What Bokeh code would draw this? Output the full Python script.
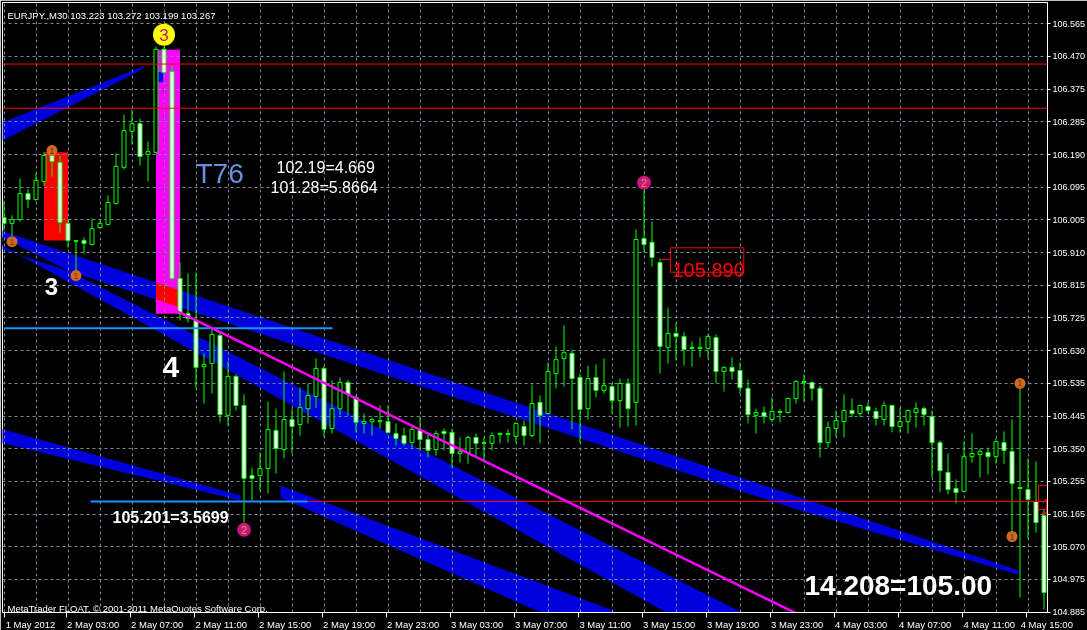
from bokeh.plotting import figure
from bokeh.models import (FixedTicker, LinearAxis, Grid, Label, Span, ColumnDataSource, Range1d)
from bokeh.core.properties import value
from bokeh.embed import file_html
from bokeh.resources import INLINE

FONT = "Liberation Sans"

# ---------------- data (EURJPY M30, bar index 0..130) ----------------
bar_open = [106.012, 105.995, 106.006, 106.080, 106.063, 106.115, 106.192, 106.169, 105.995, 105.946,
            105.946, 105.935, 105.983, 105.992, 106.052, 106.155, 106.258, 106.280, 106.192, 106.198,
            106.492, 106.429, 105.838, 105.738, 105.718, 105.586, 105.595, 105.675, 105.447, 105.558,
            105.475, 105.275, 105.275, 105.295, 105.404, 105.349, 105.435, 105.421, 105.466, 105.501,
            105.581, 105.409, 105.466, 105.541, 105.498, 105.424, 105.429, 105.429, 105.429, 105.395,
            105.389, 105.369, 105.404, 105.378, 105.349, 105.401, 105.398, 105.338, 105.341, 105.384,
            105.367, 105.367, 105.392, 105.392, 105.387, 105.415, 105.389, 105.484, 105.452, 105.566,
            105.609, 105.624, 105.555, 105.466, 105.555, 105.518, 105.529, 105.489, 105.538, 105.484,
            105.952, 105.941, 105.883, 105.641, 105.681, 105.672, 105.641, 105.638, 105.638, 105.669,
            105.572, 105.584, 105.575, 105.524, 105.447, 105.455, 105.435, 105.455, 105.455, 105.495,
            105.544, 105.541, 105.524, 105.369, 105.409, 105.429, 105.461, 105.452, 105.472, 105.458,
            105.435, 105.475, 105.415, 105.429, 105.455, 105.466, 105.444, 105.369, 105.284, 105.238,
            105.230, 105.329, 105.335, 105.341, 105.329, 105.369, 105.344, 105.238, 105.235, 105.201,
            105.161]
bar_high = [106.060, 106.018, 106.123, 106.092, 106.140, 106.198, 106.209, 106.189, 106.003, 105.948,
            105.955, 106.009, 106.003, 106.075, 106.195, 106.306, 106.320, 106.295, 106.229, 106.500,
            106.500, 106.446, 105.883, 105.852, 105.855, 105.624, 105.695, 105.684, 105.601, 105.564,
            105.507, 105.298, 105.341, 105.486, 105.466, 105.572, 105.466, 105.526, 105.538, 105.609,
            105.589, 105.547, 105.555, 105.547, 105.504, 105.452, 105.441, 105.475, 105.475, 105.424,
            105.412, 105.418, 105.444, 105.395, 105.404, 105.409, 105.409, 105.384, 105.389, 105.395,
            105.384, 105.398, 105.398, 105.407, 105.427, 105.432, 105.535, 105.504, 105.598, 105.644,
            105.704, 105.635, 105.566, 105.589, 105.592, 105.609, 105.538, 105.552, 105.552, 105.978,
            106.089, 106.000, 105.895, 105.755, 105.712, 105.684, 105.658, 105.669, 105.678, 105.678,
            105.586, 105.612, 105.598, 105.549, 105.466, 105.472, 105.498, 105.464, 105.498, 105.547,
            105.564, 105.543, 105.532, 105.429, 105.461, 105.507, 105.495, 105.478, 105.484, 105.469,
            105.486, 105.478, 105.469, 105.464, 105.484, 105.472, 105.461, 105.375, 105.338, 105.264,
            105.372, 105.395, 105.352, 105.355, 105.381, 105.401, 105.435, 105.524, 105.324, 105.315,
            105.181]
bar_low = [105.975, 105.958, 106.000, 106.038, 106.060, 106.103, 106.129, 105.969, 105.926, 105.852,
           105.909, 105.932, 105.980, 105.989, 106.049, 106.149, 106.220, 106.160, 106.115, 106.195,
           106.423, 105.832, 105.718, 105.712, 105.524, 105.481, 105.509, 105.427, 105.418, 105.461,
           105.141, 105.204, 105.232, 105.224, 105.281, 105.324, 105.338, 105.389, 105.424, 105.469,
           105.384, 105.395, 105.447, 105.447, 105.398, 105.395, 105.389, 105.409, 105.395, 105.361,
           105.361, 105.355, 105.347, 105.327, 105.332, 105.347, 105.298, 105.312, 105.309, 105.327,
           105.318, 105.347, 105.367, 105.369, 105.367, 105.361, 105.384, 105.367, 105.449, 105.524,
           105.529, 105.407, 105.367, 105.435, 105.498, 105.509, 105.452, 105.412, 105.415, 105.418,
           105.912, 105.872, 105.566, 105.595, 105.604, 105.589, 105.586, 105.612, 105.609, 105.538,
           105.515, 105.549, 105.509, 105.424, 105.395, 105.424, 105.427, 105.427, 105.452, 105.481,
           105.486, 105.489, 105.327, 105.355, 105.384, 105.384, 105.441, 105.441, 105.452, 105.418,
           105.418, 105.398, 105.398, 105.395, 105.412, 105.418, 105.269, 105.227, 105.221, 105.195,
           105.227, 105.312, 105.269, 105.278, 105.309, 105.309, 105.104, 104.927, 105.095, 105.112,
           104.893]
bar_close = [105.995, 106.006, 106.080, 106.063, 106.118, 106.189, 106.172, 105.998, 105.946, 105.944,
             105.938, 105.980, 105.995, 106.055, 106.158, 106.260, 106.280, 106.186, 106.200, 106.492,
             106.426, 105.838, 105.738, 105.724, 105.584, 105.592, 105.678, 105.449, 105.558, 105.475,
             105.267, 105.267, 105.295, 105.407, 105.352, 105.435, 105.415, 105.469, 105.504, 105.581,
             105.407, 105.466, 105.541, 105.507, 105.427, 105.429, 105.435, 105.432, 105.398, 105.381,
             105.367, 105.407, 105.378, 105.347, 105.395, 105.395, 105.338, 105.344, 105.384, 105.367,
             105.369, 105.389, 105.395, 105.395, 105.424, 105.389, 105.481, 105.447, 105.572, 105.606,
             105.626, 105.552, 105.464, 105.552, 105.518, 105.532, 105.489, 105.538, 105.466, 105.949,
             105.935, 105.898, 105.644, 105.681, 105.672, 105.635, 105.638, 105.641, 105.672, 105.572,
             105.584, 105.572, 105.526, 105.449, 105.455, 105.444, 105.458, 105.458, 105.495, 105.544,
             105.541, 105.524, 105.369, 105.412, 105.432, 105.461, 105.452, 105.475, 105.461, 105.438,
             105.475, 105.415, 105.429, 105.461, 105.466, 105.449, 105.369, 105.289, 105.235, 105.227,
             105.329, 105.338, 105.344, 105.329, 105.372, 105.347, 105.252, 105.241, 105.207, 105.141,
             104.941]
bar_index = list(range(len(bar_open)))

# right price scale
y_tick_values = [104.885, 104.97833, 105.07167, 105.165, 105.25833, 105.35167, 105.445, 105.53833,
                 105.63167, 105.725, 105.81833, 105.91167, 106.005, 106.09833, 106.19167, 106.285,
                 106.37833, 106.47167, 106.565]
y_tick_labels = ["104.885", "104.975", "105.070", "105.165", "105.255", "105.350", "105.445", "105.535",
                 "105.630", "105.725", "105.815", "105.910", "106.005", "106.095", "106.190", "106.285",
                 "106.375", "106.470", "106.565"]
# time scale
x_tick_marks = [0, 7.81, 15.81, 23.81, 31.81, 39.81, 47.81, 55.81, 63.81, 71.81, 79.81, 87.81,
                95.81, 103.81, 111.81, 119.81, 127.81]
x_label_pos = [3.31, 11.15, 19.15, 27.15, 35.15, 43.15, 51.15, 59.15, 67.15, 75.15, 83.15, 91.15,
               99.15, 107.15, 115.15, 123.15, 130.35]
x_labels = ["1 May 2012", "2 May 03:00", "2 May 07:00", "2 May 11:00", "2 May 15:00", "2 May 19:00",
            "2 May 23:00", "3 May 03:00", "3 May 07:00", "3 May 11:00", "3 May 15:00", "3 May 19:00",
            "3 May 23:00", "4 May 03:00", "4 May 07:00", "4 May 11:00", "4 May 15:00"]
x_grid_bars = list(range(0, 131, 4))

# channel bands drawn "as background" (bar, price vertices, convex)
band_1_bar = [-0.19, 17.69, 16.81, -0.19]
band_1_price = [106.283, 106.446, 106.429, 106.232]
band_a_bar = [-0.44, 126.8, 126.8, 99.56, -0.44]
band_a_price = [105.975, 105.004, 104.992, 105.175, 105.923]
band_b_bar = [-0.44, 101.56, 91.38, -0.44]
band_b_price = [105.958, 104.776, 104.776, 105.935]
band_e_bar = [34.56, 89.31, 77.81, 34.56]
band_e_price = [105.2466, 104.776, 104.776, 105.2124]
band_d_bar = [-0.44, 29.56, 29.56, -0.44]
band_d_price = [105.409, 105.218, 105.204, 105.369]

# rectangles drawn "as background"
red_box = dict(left=5, right=8, bottom=105.946, top=106.198)
pink_box = dict(left=19, right=22, bottom=105.737, top=106.491)
blue_chip = dict(left=19.28, right=19.9, bottom=106.398, top=106.427)

# levels / lines
red_full_levels = [106.450, 106.324]
level_105201 = 105.201
red_105201_from, red_105201_to = 37.94, 131.5
blue_105201_from, blue_105201_to = 10.81, 37.94
blue_level = 105.696
blue_level_from, blue_level_to = 0.06, 41.06
trend_bar = [18.94, 105.81]
trend_price = [105.7746, 104.806]

# numbered markers
m1_bar = [1, 6, 9, 126, 127]
m1_price = [105.943, 106.203, 105.846, 105.101, 105.538]
m2_bar = [30, 80]
m2_price = [105.120, 106.111]
m3_bar = [20]
m3_price = [106.534]

# ---------------- figure ----------------
p = figure(frame_width=1045, frame_height=610, min_border_left=2, min_border_top=2,
           min_border_right=0, min_border_bottom=0,
           x_range=Range1d(-0.1875, 130.4375), y_range=Range1d(104.884, 106.6258),
           x_axis_location=None, y_axis_location="right",
           output_backend="svg", toolbar_location=None,
           background_fill_color="black", border_fill_color="black")
p.styles = {"position": "fixed", "left": "0px", "top": "0px"}
p.outline_line_color = "white"
p.outline_line_width = 1
p.xgrid.visible = False
p.ygrid.visible = False

ya = p.yaxis[0]
ya.ticker = FixedTicker(ticks=y_tick_values)
ya.major_label_overrides = dict(zip(y_tick_values, y_tick_labels))
ya.axis_line_color = "white"
ya.major_tick_line_color = "white"
ya.major_tick_out = 3
ya.major_tick_in = 0
ya.minor_tick_line_color = None
ya.major_label_text_color = "white"
ya.major_label_text_font = FONT
ya.major_label_text_font_size = "9px"
ya.major_label_standoff = 2

ax = LinearAxis(ticker=FixedTicker(ticks=x_label_pos, minor_ticks=x_tick_marks),
                major_label_overrides=dict(zip(x_label_pos, x_labels)),
                major_tick_out=0, major_tick_in=0, minor_tick_out=5, minor_tick_in=0,
                major_label_standoff=1,
                axis_line_color="white", major_tick_line_color=None, minor_tick_line_color="white",
                major_label_text_color="white", major_label_text_font=FONT,
                major_label_text_font_size="9.5px")
p.add_layout(ax, "below")

GRID = "#778899"
p.add_layout(Grid(dimension=1, ticker=FixedTicker(ticks=y_tick_values), grid_line_color=GRID,
                  grid_line_dash="3 3", grid_line_width=1), "center")
p.add_layout(Grid(dimension=0, ticker=FixedTicker(ticks=x_grid_bars), grid_line_color=GRID,
                  grid_line_dash="3 3", grid_line_width=1), "center")

# ---------------- background objects, combined the MT4 way (XOR of colours) ----------------
BLUE, RED, PINK = (0, 0, 255), (255, 0, 0), (255, 0, 255)
SHOW = {(0, 0, 255): "#0000dd", (255, 0, 0): "#ff0000", (255, 0, 255): "#ff00ff", (0, 0, 0): "#000000"}


def box_pts(b):
    return [(b["left"], b["bottom"]), (b["right"], b["bottom"]), (b["right"], b["top"]), (b["left"], b["top"])]


shapes = [(list(zip(band_1_bar, band_1_price)), BLUE),
          (list(zip(band_a_bar, band_a_price)), BLUE),
          (list(zip(band_b_bar, band_b_price)), BLUE),
          (list(zip(band_e_bar, band_e_price)), BLUE),
          (list(zip(band_d_bar, band_d_price)), BLUE),
          (box_pts(red_box), RED),
          (box_pts(pink_box), PINK)]


def signed_area(pts):
    return 0.5 * sum(pts[i - 1][0] * pts[i][1] - pts[i][0] * pts[i - 1][1] for i in range(len(pts)))


def clip_convex(subject, clip):
    if signed_area(clip) < 0:
        clip = clip[::-1]
    out = list(subject)
    for i in range(len(clip)):
        a, b = clip[i - 1], clip[i]
        inp, out = out, []
        if not inp:
            return None

        def side(q):
            return (b[0] - a[0]) * (q[1] - a[1]) - (b[1] - a[1]) * (q[0] - a[0])

        for j in range(len(inp)):
            cur, prev = inp[j], inp[j - 1]
            sc, sp = side(cur), side(prev)
            if sc >= 0:
                if sp < 0:
                    t = sp / (sp - sc)
                    out.append((prev[0] + t * (cur[0] - prev[0]), prev[1] + t * (cur[1] - prev[1])))
                out.append(cur)
            elif sp >= 0:
                t = sp / (sp - sc)
                out.append((prev[0] + t * (cur[0] - prev[0]), prev[1] + t * (cur[1] - prev[1])))
    if len(out) < 3 or abs(signed_area(out)) < 1e-7:
        return None
    return out


layers = {}


def walk(start, pts, rgb, depth):
    layers.setdefault(depth, []).append((pts, rgb))
    for k in range(start, len(shapes)):
        inter = clip_convex(pts, shapes[k][0])
        if inter:
            walk(k + 1, inter, tuple(u ^ v for u, v in zip(rgb, shapes[k][1])), depth + 1)


for i, (pts, rgb) in enumerate(shapes):
    walk(i + 1, pts, rgb, 1)

for depth in sorted(layers):
    items = layers[depth]
    p.patches([[q[0] for q in it[0]] for it in items], [[q[1] for q in it[0]] for it in items],
              fill_color=[SHOW.get(it[1], "#000000") for it in items], line_color=None, level="image")
p.quad(**blue_chip, fill_color="#0000ff", line_color=None, level="image")

# ---------------- candles ----------------
GREEN = "#00ff00"
top = [max(o, c) for o, c in zip(bar_open, bar_close)]
bot = [min(o, c) for o, c in zip(bar_open, bar_close)]
fill = ["black" if c > o else "white" for o, c in zip(bar_open, bar_close)]
src = ColumnDataSource(dict(x=bar_index, h=bar_high, l=bar_low, top=top, bot=bot, fill=fill))
p.segment("x", "h", "x", "l", source=src, line_color=GREEN, line_width=1)
p.vbar(x="x", width=0.5, top="top", bottom="bot", fill_color="fill", line_color=GREEN,
       line_width=1, source=src)

# ---------------- foreground objects ----------------
for lv in red_full_levels:
    p.add_layout(Span(location=lv, dimension="width", line_color="#ff0000", line_width=1))
p.segment(red_105201_from, level_105201, red_105201_to, level_105201, line_color="#ff0000", line_width=1)
p.segment(blue_105201_from, level_105201, blue_105201_to, level_105201, line_color="#1e90ff", line_width=2)
p.segment(blue_level_from, blue_level, blue_level_to, blue_level, line_color="#1e90ff", line_width=2)
p.line(trend_bar, trend_price, line_color="#ff00ff", line_width=2.5)

# numbered markers
p.scatter(m1_bar, m1_price, marker="circle", size=11, fill_color="#d2691e", line_color=None)
p.text(m1_bar, m1_price, text=["1"] * len(m1_bar), text_color="#6b3410", text_font=value(FONT),
       text_font_size="9px", text_align="center", text_baseline="middle")
p.scatter(m2_bar, m2_price, marker="circle", size=14, fill_color="#c71585", line_color=None)
p.text(m2_bar, m2_price, text=["2"] * len(m2_bar), text_color="#e0a020", text_font=value(FONT),
       text_font_size="11px", text_align="center", text_baseline="middle")
p.scatter(m3_bar, m3_price, marker="circle", size=22, fill_color="#ffff00", line_color=None)
p.text(m3_bar, m3_price, text=["3"], text_color="#b0207a", text_font=value(FONT),
       text_font_size="17px", text_align="center", text_baseline="middle")


def put(x, y, t, color="white", size="16px", style="normal", align="left", baseline="alphabetic"):
    p.text([x], [y], text=[t], text_color=color, text_font=value(FONT), text_font_size=size,
           text_font_style=style, text_align=align, text_baseline=baseline)


put(0.44, 106.590, "EURJPY.,M30  103.223 103.272 103.199 103.267", size="9.5px")
put(0.44, 104.894, "MetaTrader FLOAT, \u00a9 2001-2011 MetaQuotes Software Corp.", size="9.5px")
put(23.94, 106.138, "T76", color="#6a8fe0", size="28px")
put(34.06, 106.1555, "102.19=4.669", size="16px")
put(33.31, 106.098, "101.28=5.8664", size="16px")
put(5.1, 105.814, "3", size="24px", style="bold")
put(19.81, 105.586, "4", size="30px", style="bold")
put(13.56, 105.156, "105.201=3.5699", size="16px", style="bold")
put(100.06, 104.961, "14.208=105.00", size="28px", style="bold")

# 105.890 price tag
p.quad(left=83.31, right=92.48, bottom=105.8556, top=105.9253, fill_color=None, line_color="#ff0000",
       line_width=1)
p.segment(82.06, 105.892, 83.31, 105.892, line_color="#ff0000", line_width=1)
put(83.56, 105.8634, "105.890", color="#ff0000", size="20px")

# partially hidden red tag at the right edge
p.quad(left=129.31, right=130.9, bottom=105.178, top=105.247, fill_color=None, line_color="#ff0000",
       line_width=1)
put(129.56, 105.187, "1", color="#ff0000", size="22px")

# price tags on the scale
for lv, txt in [(106.450, "106.450"), (106.324, "106.324"), (105.201, "105.201")]:
    p.add_layout(Label(x=130.56, y=lv, text=txt, text_font=FONT, text_font_size="9px",
                       text_color="#3a0000", text_baseline="middle", text_align="left",
                       background_fill_color="#ff0000", padding=2))

open("out.html", "w").write(file_html(p, INLINE))
